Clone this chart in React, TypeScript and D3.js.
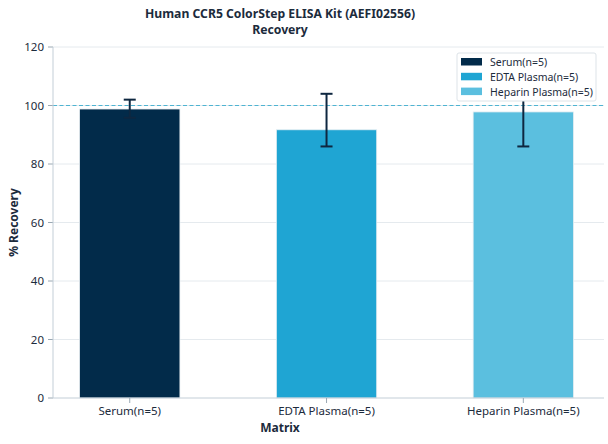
import React from "react";
import * as d3 from "d3";

const categories = ["Serum(n=5)", "EDTA Plasma(n=5)", "Heparin Plasma(n=5)"];
const values = [98.8, 91.7, 97.8];
const errLow = [3, 5.7, 11.8];
const errHigh = [3.2, 12.3, 12.2];
const colors = ["#022b4a", "#1fa5d3", "#5bbfdf"];
const yTicks = [0, 20, 40, 60, 80, 100, 120];

const W = 608, H = 444;
const left = 53, right = 604, top = 47, bottom = 398;

export default function App() {
  const x = d3.scaleLinear().domain([-0.39, 2.41]).range([left, right]);
  const y = d3.scaleLinear().domain([0, 120]).range([bottom, top]);
  const barW = x(0.51) - x(0);
  const text = "#1c2b3c";
  const font = "'Noto Sans', 'Open Sans', sans-serif";
  return (
    <svg width={W} height={H} style={{ position: "absolute", left: 0, top: 0, fontFamily: font }}>
      <rect width={W} height={H} fill="#fff" />
      {yTicks.map((t) => (
        <g key={t}>
          {t > 0 && <line x1={left} x2={right} y1={y(t)} y2={y(t)} stroke="#e5eaee" strokeWidth={1} />}
          <line x1={left - 5} x2={left} y1={y(t)} y2={y(t)} stroke="#9aa8b3" strokeWidth={1} />
          <text x={left - 9} y={y(t)} dy="0.35em" textAnchor="end" fontSize={11.5} fill={text}>{t}</text>
        </g>
      ))}
      <line x1={left} x2={right} y1={Math.round(y(100)) + 0.5} y2={Math.round(y(100)) + 0.5} stroke="#4fb4d2" strokeWidth={1.1} strokeDasharray="4,2.5" />
      {categories.map((c, i) => (
        <g key={c}>
          <rect x={x(i) - barW / 2} y={y(values[i])} width={barW} height={y(0) - y(values[i])} fill={colors[i]} stroke="#e8eef2" strokeWidth={0.8} />
        </g>
      ))}
      {categories.map((c, i) => {
        const cx = x(i);
        const y1 = y(values[i] - errLow[i]);
        const y2 = y(values[i] + errHigh[i]);
        return (
          <g key={"e" + c} stroke="#0e2740" strokeWidth={2}>
            <line x1={cx} x2={cx} y1={y1} y2={y2} />
            <line x1={cx - 6} x2={cx + 6} y1={y1} y2={y1} />
            <line x1={cx - 6} x2={cx + 6} y1={y2} y2={y2} />
          </g>
        );
      })}
      <line x1={left} x2={left} y1={top} y2={bottom} stroke="#c3ced7" strokeWidth={1} />
      <line x1={left} x2={right} y1={bottom} y2={bottom} stroke="#c3ced7" strokeWidth={1} />
      {categories.map((c, i) => (
        <g key={"t" + c}>
          <line x1={x(i)} x2={x(i)} y1={bottom} y2={bottom + 5} stroke="#9aa8b3" />
          <text x={x(i)} y={bottom + 17} textAnchor="middle" fontSize={11.5} fill={text}>{c}</text>
        </g>
      ))}
      <g>
        <rect x={457} y={53} width={139} height={48} fill="#fff" stroke="#dde3e8" rx={2} />
        {categories.map((c, i) => (
          <g key={"l" + c}>
            <rect x={461} y={58 + i * 14.8} width={21} height={7.5} fill={colors[i]} />
            <text x={490} y={62.5 + i * 14.8} dy="0.35em" fontSize={10.5} fill={text}>{c}</text>
          </g>
        ))}
      </g>
      <text x={280} y={18} textAnchor="middle" fontSize={12.2} fontWeight="bold" fill={text}>Human CCR5 ColorStep ELISA Kit (AEFI02556)</text>
      <text x={280} y={34} textAnchor="middle" fontSize={12.2} fontWeight="bold" fill={text}>Recovery</text>
      <text x={280} y={432} textAnchor="middle" fontSize={12} fontWeight="bold" fill={text}>Matrix</text>
      <text transform={`translate(18,${(top + bottom) / 2}) rotate(-90)`} textAnchor="middle" fontSize={12} fontWeight="bold" fill={text}>% Recovery</text>
    </svg>
  );
}
